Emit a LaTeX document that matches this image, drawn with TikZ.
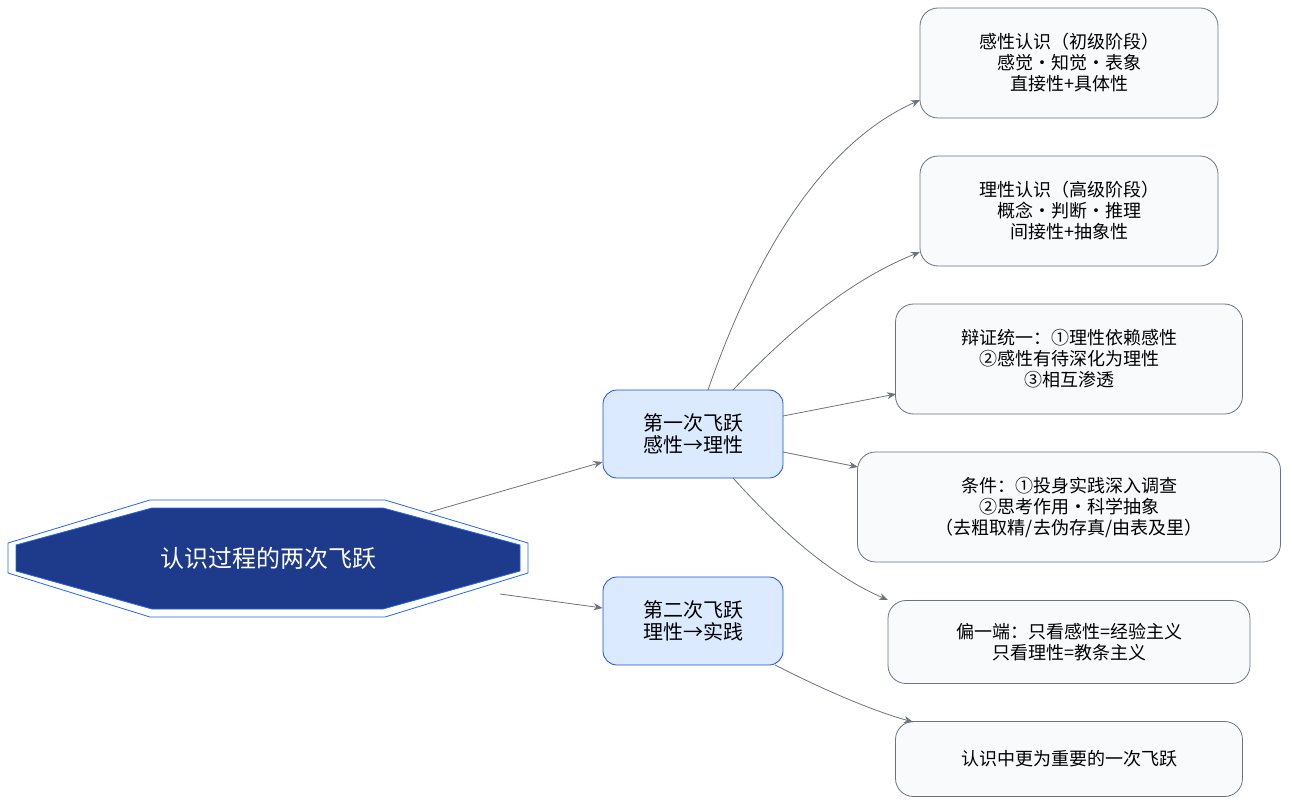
\documentclass[tikz,border=0pt]{standalone}
\usepackage{fontspec}
\setmainfont{Noto Sans CJK SC}
\usetikzlibrary{arrows.meta,positioning}
\definecolor{rootfill}{HTML}{1E3A8A}
\definecolor{rootline}{HTML}{2563EB}
\definecolor{midfill}{HTML}{DBEAFE}
\definecolor{midline}{HTML}{1D4ED8}
\definecolor{leaffill}{HTML}{F8FAFC}
\definecolor{leafline}{HTML}{6B7280}
\tikzset{
  midnode/.style={rectangle, rounded corners=14pt, draw=midline, fill=midfill, thick,
    minimum width=180pt, minimum height=88pt, align=center, font=\fontsize{20}{22}\selectfont},
  leafnode/.style={rectangle, rounded corners=18pt, draw=leafline, fill=leaffill, thick,
    align=center, font=\fontsize{18}{21}\selectfont},
  arrow/.style={draw=leafline, thick, -{Stealth[length=9pt,width=7pt]}}
}
\begin{document}
\begin{tikzpicture}[x=1pt,y=-1pt]
\useasboundingbox (0,0) rectangle (1289,805);
% root octagon
\draw[rootline, thick] (8,543) -- (150,500) -- (385,500) -- (528,543) -- (528,573) -- (385,617) -- (150,617) -- (8,573) -- cycle;
\draw[rootline, thick, fill=rootfill] (16,545) -- (152,508) -- (383,508) -- (520,545) -- (520,571) -- (383,609) -- (152,609) -- (16,571) -- cycle;
\node (root) [text=white, font=\fontsize{24}{26}\selectfont, minimum width=510pt, minimum height=110pt] at (268,558) {认识过程的两次飞跃};

% middle level
\node (first) [midnode] at (693,434) {第一次飞跃\\感性→理性};
\node (second) [midnode] at (693,621) {第二次飞跃\\理性→实践};

% leaves
\node (sense) [leafnode, minimum width=298pt, minimum height=110pt] at (1069,63) {感性认识（初级阶段）\\感觉·知觉·表象\\直接性+具体性};
\node (reason) [leafnode, minimum width=298pt, minimum height=110pt] at (1069,211) {理性认识（高级阶段）\\概念·判断·推理\\间接性+抽象性};
\node (unity) [leafnode, minimum width=347pt, minimum height=110pt] at (1069,359) {辩证统一：①理性依赖感性\\②感性有待深化为理性\\③相互渗透};
\node (cond) [leafnode, minimum width=423pt, minimum height=110pt] at (1069,507) {条件：①投身实践深入调查\\②思考作用·科学抽象\\（去粗取精/去伪存真/由表及里）};
\node (bias) [leafnode, minimum width=362pt, minimum height=83pt] at (1069,642) {偏一端：只看感性=经验主义\\只看理性=教条主义};
\node (key) [leafnode, minimum width=347pt, minimum height=75pt] at (1069,759) {认识中更为重要的一次飞跃};

% connections
\draw[arrow] (430,512) -- (first.west |- 0,462);
\draw[arrow] (500,594) -- (second.west |- 0,608);
\draw[arrow] (708,390) .. controls (760,240) and (830,140) .. (920,100);
\draw[arrow] (733,390) .. controls (790,330) and (850,280) .. (920,252);
\draw[arrow] (783,416) -- (896,394);
\draw[arrow] (783,452) -- (858,467);
\draw[arrow] (733,478) .. controls (780,530) and (830,575) .. (888,600);
\draw[arrow] (775,665) .. controls (820,688) and (870,710) .. (913,722);
\end{tikzpicture}
\end{document}
